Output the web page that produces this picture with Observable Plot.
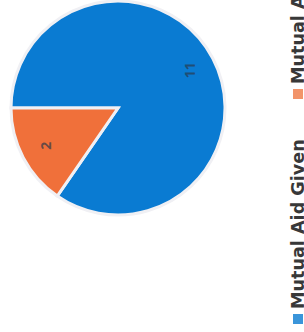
<!DOCTYPE html>
<html><head><meta charset="utf-8">
<script src="https://cdn.jsdelivr.net/npm/d3@7"></script>
<script src="https://cdn.jsdelivr.net/npm/@observablehq/plot@0.6"></script>
<style>
html,body{margin:0;padding:0;background:#fff;overflow:hidden}
#chart{width:304px;height:332px;}
</style></head><body><div id="chart"></div>
<script>
const categories = ["Mutual Aid Given", "Mutual Aid Received"];
const values = [11, 2];
const colors = ["#0a7bd2", "#f0703a"];
const legendColors = ["#3a95da", "#f2946a"];

const W = 304, H = 332;
const color = Plot.scale({color: {type: "ordinal", domain: categories, range: colors}});
const legendColor = Plot.scale({color: {type: "ordinal", domain: categories, range: legendColors}});
const data = categories.map((c, i) => ({category: c, value: values[i]}));

function pieMark() {
  // drawn in the chart's own (unrotated) frame, 332 wide x 304 tall, then turned a quarter turn
  const g = d3.create("svg:g").attr("transform", `translate(0,${H}) rotate(-90)`);
  const cx = 224, cy = 118, r = 107;
  const arcs = d3.pie().value(d => d.value).sort(null)(data);
  const arc = d3.arc().innerRadius(0).outerRadius(r);
  const labelArc = d3.arc().innerRadius(r * 0.76).outerRadius(r * 0.76);
  const pg = g.append("g").attr("transform", `translate(${cx},${cy})`);
  pg.selectAll("path").data(arcs).join("path")
    .attr("d", arc)
    .attr("fill", d => color.apply(d.data.category))
    .attr("stroke", "#f0f0f4")
    .attr("stroke-width", 3)
    .attr("stroke-linejoin", "miter");
  pg.selectAll("text").data(arcs).join("text")
    .attr("transform", d => `translate(${labelArc.centroid(d)})`)
    .attr("text-anchor", "middle")
    .attr("dy", "0.35em")
    .attr("font-family", "Open Sans, sans-serif")
    .attr("font-weight", 700)
    .attr("font-size", 14)
    .attr("fill", "#2a3a4a")
    .attr("fill-opacity", 0.7)
    .text(d => d.data.value);
  // legend
  const legendX = [8, 233];
  const lg = g.append("g").attr("font-family", "DejaVu Sans, sans-serif").attr("font-weight", 700)
    .attr("font-size", 17.6).attr("text-anchor", "start");
  categories.forEach((c, i) => {
    lg.append("rect").attr("x", legendX[i]).attr("y", 293).attr("width", 10).attr("height", 10)
      .attr("fill", legendColor.apply(c));
    lg.append("text").attr("x", legendX[i] + 15).attr("y", 303.5).attr("fill", "#383838").text(c);
  });
  return g.node();
}

const chart = Plot.plot({
  width: W,
  height: H,
  margin: 0,
  style: {background: "#fff"},
  marks: [pieMark]
});
document.getElementById("chart").appendChild(chart);
</script></body></html>
